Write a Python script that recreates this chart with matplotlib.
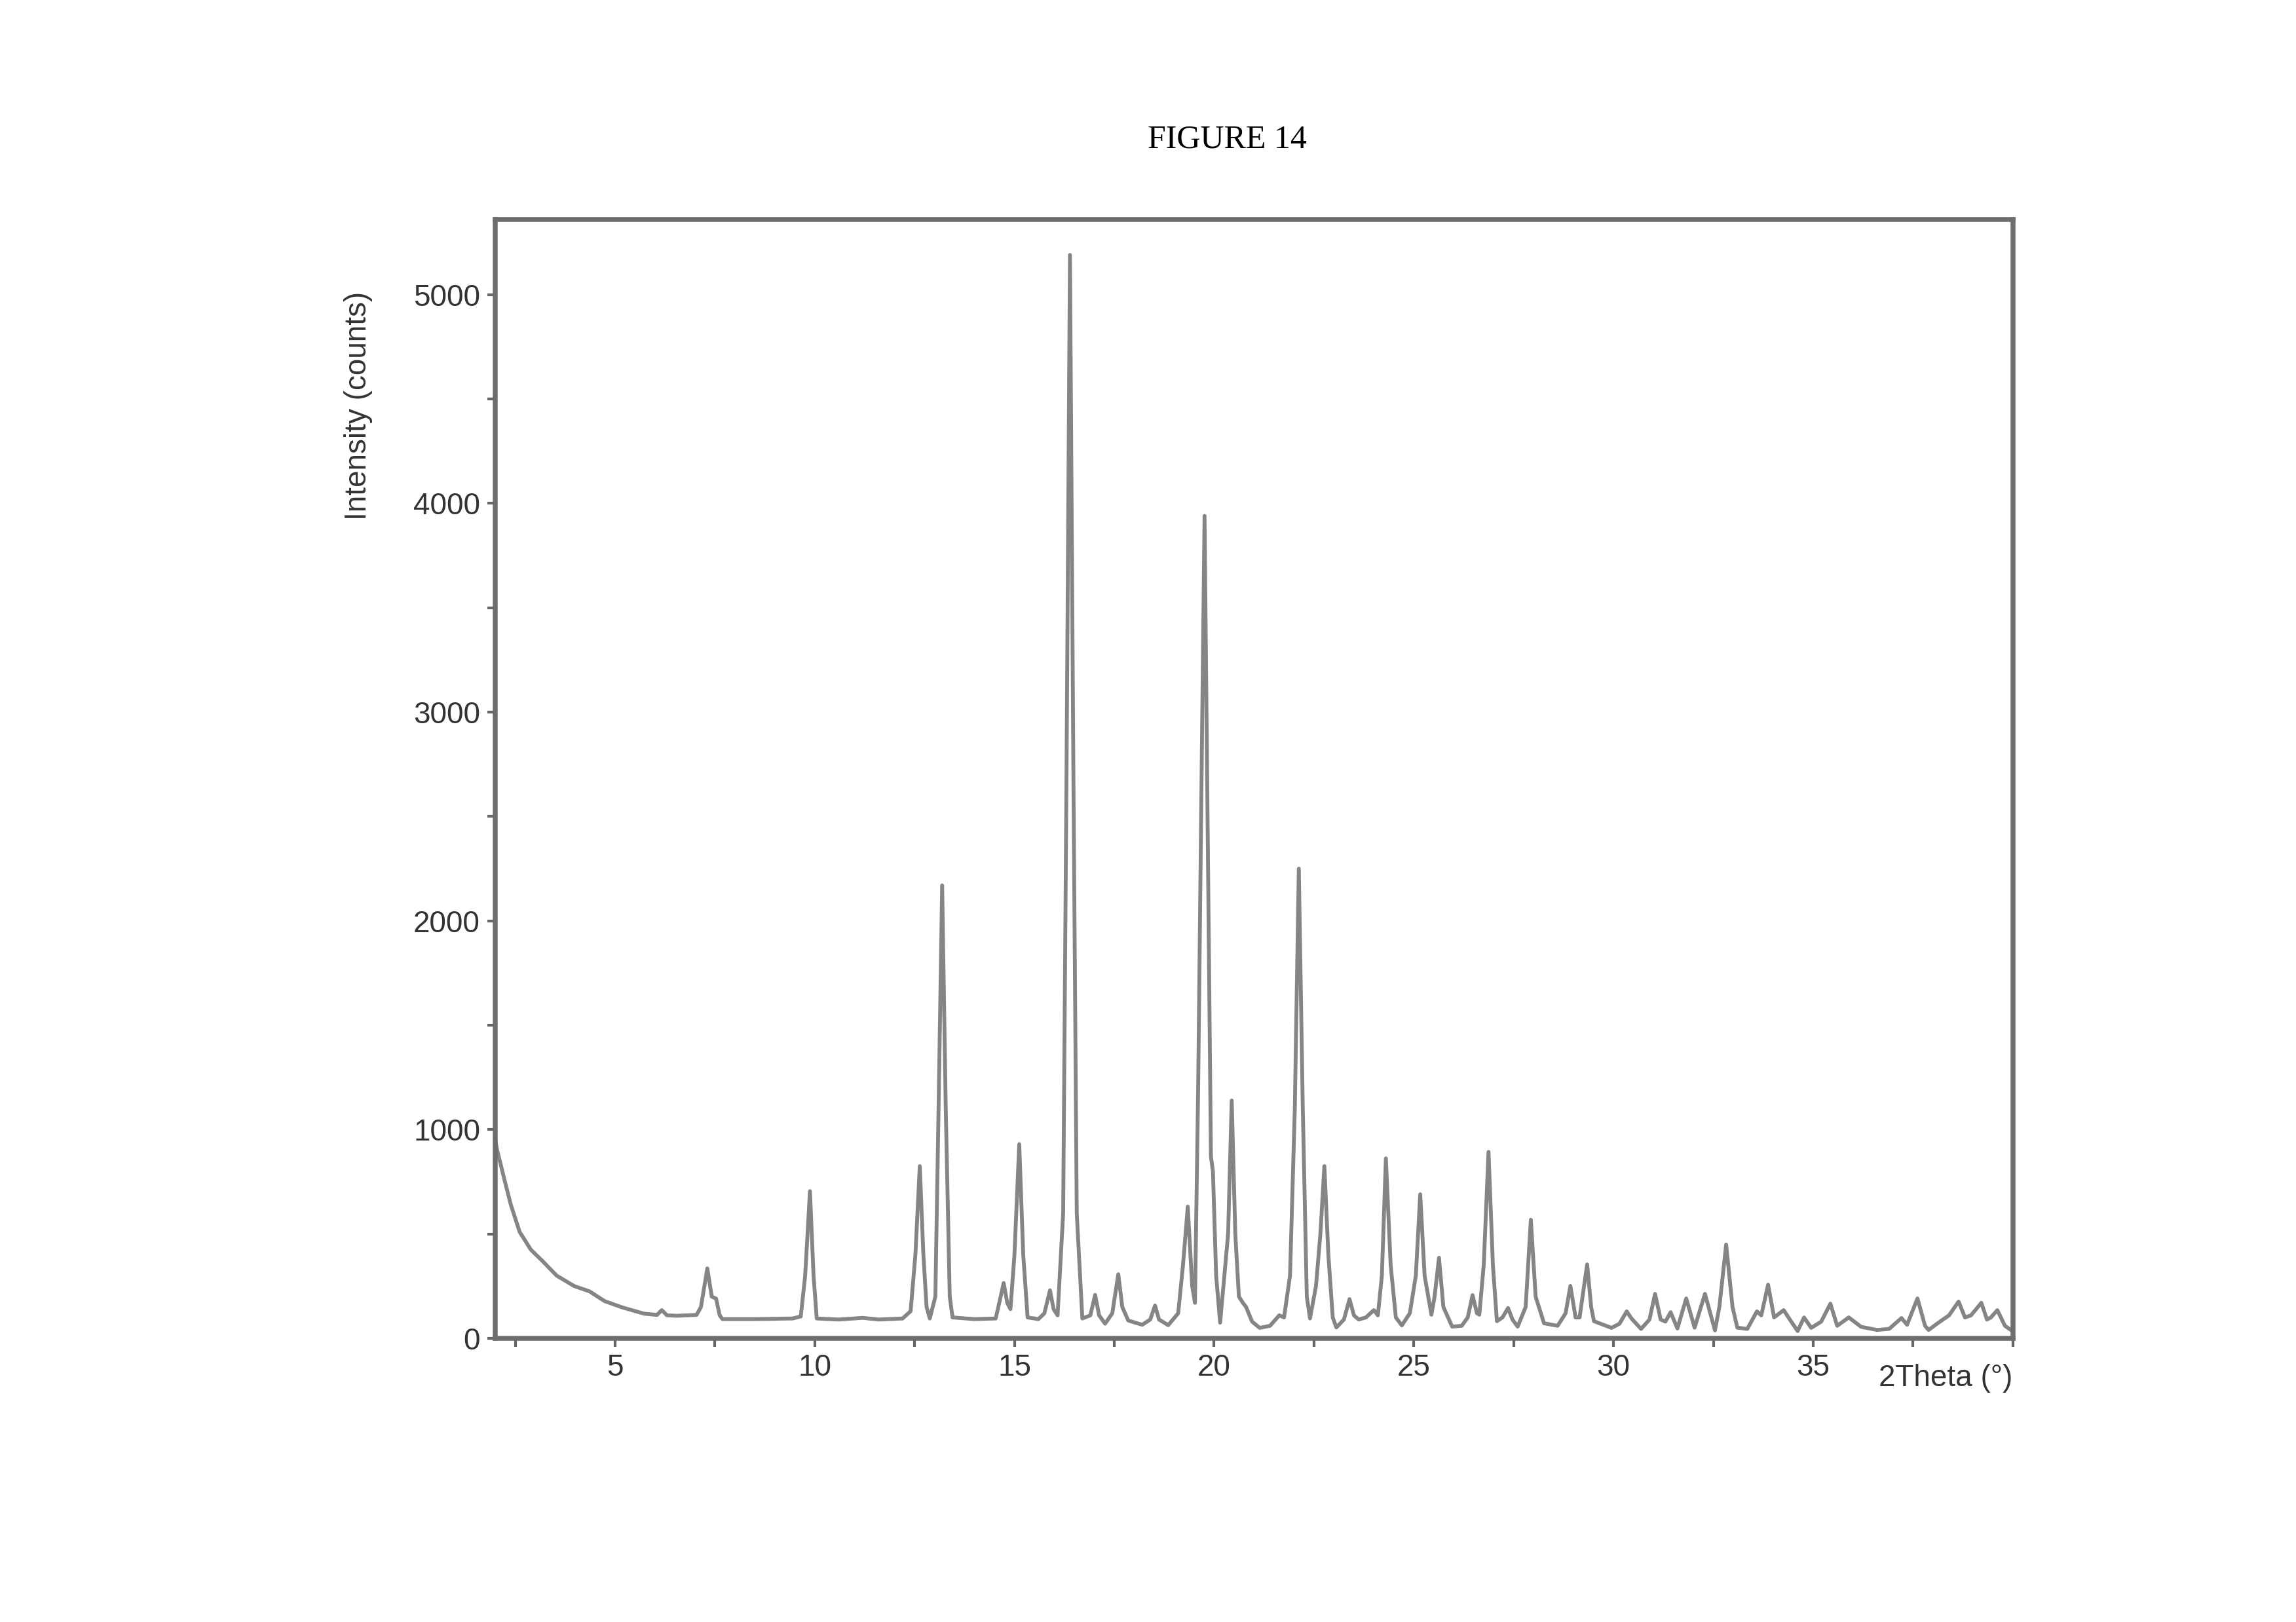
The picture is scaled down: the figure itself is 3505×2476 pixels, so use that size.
import matplotlib
matplotlib.use("Agg")
import matplotlib.pyplot as plt
from matplotlib.ticker import MultipleLocator, FixedLocator

# XRD pattern (2theta in degrees, intensity in counts)
two_theta = [
    2.00, 2.05, 2.23, 2.39, 2.61, 2.89, 3.21, 3.54, 3.98, 4.36, 4.74, 5.18, 5.73,
    6.05, 6.17, 6.30, 6.54, 7.04, 7.15, 7.31, 7.42, 7.53, 7.62, 7.69, 8.46, 9.45,
    9.65, 9.76, 9.88, 9.97, 10.05, 10.6, 11.2, 11.6, 12.2,
    12.40, 12.52, 12.63, 12.72, 12.80, 12.88, 13.02, 13.10, 13.19, 13.28, 13.38, 13.45,
    14.0, 14.53, 14.62, 14.73, 14.82, 14.90, 15.00, 15.12, 15.22, 15.33, 15.60,
    15.75, 15.89, 15.98, 16.08, 16.22, 16.30, 16.39, 16.48, 16.56, 16.70,
    16.90, 17.02, 17.12, 17.27, 17.45, 17.60, 17.70, 17.85, 18.20, 18.40, 18.52,
    18.62, 18.85, 19.10, 19.22, 19.34, 19.45, 19.52, 19.60, 19.68, 19.76, 19.84,
    19.92, 19.97, 20.05, 20.15, 20.35, 20.44, 20.53, 20.62, 20.72, 20.80, 20.95,
    21.14, 21.40, 21.63, 21.75, 21.90, 22.02, 22.12, 22.22, 22.32, 22.40, 22.55,
    22.66, 22.76, 22.86, 22.97, 23.06, 23.25, 23.39, 23.50, 23.62, 23.80, 24.00,
    24.10, 24.20, 24.30, 24.42, 24.55, 24.70, 24.90, 25.05, 25.16, 25.27, 25.44,
    25.52, 25.63, 25.74, 25.96, 26.20, 26.35, 26.47, 26.58, 26.64, 26.75, 26.87,
    26.98, 27.08, 27.22, 27.36, 27.47, 27.60, 27.80, 27.93, 28.05, 28.26, 28.60,
    28.80, 28.92, 29.05, 29.15, 29.34, 29.44, 29.51, 29.95, 30.15, 30.33, 30.45,
    30.69, 30.90, 31.04, 31.18, 31.30, 31.43, 31.60, 31.82, 32.03, 32.29, 32.54,
    32.65, 32.82, 32.98, 33.10, 33.35, 33.59, 33.70, 33.87, 34.02, 34.26, 34.45,
    34.61, 34.77, 34.95, 35.20, 35.43, 35.60, 35.89, 36.20, 36.60, 36.90, 37.21,
    37.35, 37.61, 37.80, 37.89, 38.10, 38.40, 38.64, 38.80, 38.95, 39.21, 39.35,
    39.45, 39.61, 39.80, 39.95,
]
counts = [
    950, 900, 760, 640, 510, 425, 365, 300, 250, 225, 178, 148, 118,
    112, 135, 110, 108, 112, 150, 335, 200, 190, 110, 92, 92, 95,
    105, 300, 705, 300, 95, 90, 98, 90, 95,
    130, 400, 825, 400, 150, 95, 200, 1100, 2170, 1100, 200, 100,
    92, 95, 170, 265, 170, 140, 400, 930, 400, 100, 92,
    120, 230, 140, 110, 600, 2600, 5190, 2600, 600, 95,
    110, 208, 110, 70, 120, 307, 150, 85, 65, 90, 157,
    90, 63, 120, 350, 631, 250, 170, 1200, 2600, 3940, 2400,
    870, 800, 300, 75, 500, 1139, 500, 200, 170, 150, 80,
    50, 60, 110, 100, 300, 1100, 2250, 1100, 200, 95, 250,
    500, 825, 400, 100, 52, 90, 188, 110, 90, 100, 135,
    110, 300, 862, 350, 100, 62, 120, 300, 690, 300, 113,
    200, 386, 150, 56, 60, 100, 207, 120, 113, 350, 893,
    350, 82, 100, 145, 90, 56, 150, 568, 200, 72, 60,
    120, 251, 100, 100, 354, 150, 82, 50, 70, 129, 95,
    45, 90, 213, 90, 80, 125, 47, 191, 51, 213, 38,
    150, 449, 150, 51, 45, 129, 110, 257, 100, 135, 80,
    35, 100, 50, 80, 166, 60, 100, 55, 40, 45, 97,
    65, 191, 60, 40, 70, 110, 176, 100, 110, 170, 90,
    100, 135, 60, 40,
]

x_labels = [5, 10, 15, 20, 25, 30, 35]
x_limits = (2, 40)
y_limits = (0, 5360)

narrow = ["Liberation Sans Narrow", "Liberation Sans", "DejaVu Sans"]

fig = plt.figure(figsize=(3505 / 300, 2476 / 300), dpi=300)
ax = fig.add_axes([0.2157, 0.1749, 0.661, 0.6898])

ax.plot(two_theta, counts, color="#858585", lw=1.4, solid_joinstyle="round")

ax.set_xlim(*x_limits)
ax.set_ylim(*y_limits)

ax.xaxis.set_major_locator(FixedLocator(x_labels))
ax.xaxis.set_minor_locator(MultipleLocator(2.5))
ax.yaxis.set_major_locator(MultipleLocator(1000))
ax.yaxis.set_minor_locator(MultipleLocator(500))

for spine in ax.spines.values():
    spine.set_color("#6e6e6e")
    spine.set_linewidth(1.8)

ax.tick_params(which="both", direction="out", length=3, width=1.0,
               color="#666666", pad=2.5, labelsize=11, labelcolor="#333333")
for lab in ax.get_xticklabels() + ax.get_yticklabels():
    lab.set_family(narrow)

fig.text(0.5345, 0.914, "FIGURE 14", ha="center", va="center",
         fontsize=12, family=["Liberation Serif", "DejaVu Serif"])
fig.text(0.156, 0.75, "Intensity (counts)", rotation=90, ha="center", va="center",
         fontsize=11, color="#333333", family=narrow)
ax.text(1.0, -0.036, "2Theta (°)", transform=ax.transAxes, ha="right", va="center",
        fontsize=11, color="#333333", family=narrow)

fig.savefig("out.png", dpi=300)
